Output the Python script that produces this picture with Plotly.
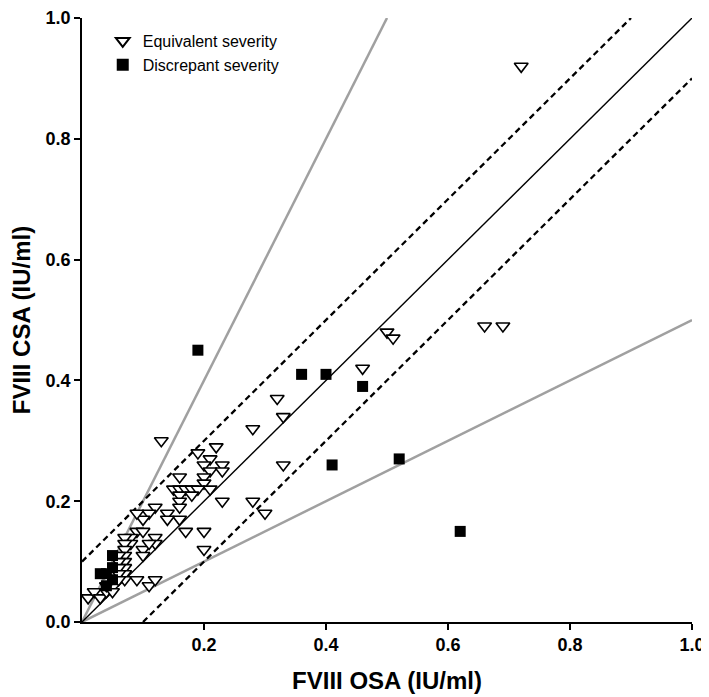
import plotly.graph_objects as go

# Equivalent severity (OSA, CSA)
eq_x = [0.72, 0.66, 0.69, 0.50, 0.51, 0.46, 0.32, 0.33, 0.28, 0.33, 0.28, 0.30, 0.23,
        0.13, 0.22, 0.19, 0.21, 0.23, 0.20, 0.21, 0.23, 0.16, 0.20, 0.20, 0.21,
        0.15, 0.16, 0.17, 0.18, 0.19, 0.16, 0.16, 0.16, 0.18, 0.16, 0.17, 0.20, 0.20,
        0.14, 0.14, 0.12, 0.11, 0.10, 0.09, 0.09, 0.10, 0.10, 0.10, 0.12, 0.12, 0.11,
        0.08, 0.07, 0.08, 0.07, 0.07, 0.07, 0.07, 0.07, 0.07, 0.07,
        0.06, 0.06, 0.06, 0.06, 0.06,
        0.09, 0.11, 0.12, 0.01, 0.02, 0.03, 0.04, 0.05, 0.04]
eq_y = [0.92, 0.49, 0.49, 0.48, 0.47, 0.42, 0.37, 0.34, 0.32, 0.26, 0.20, 0.18, 0.20,
        0.30, 0.29, 0.28, 0.27, 0.26, 0.26, 0.25, 0.25, 0.24, 0.24, 0.23, 0.22,
        0.22, 0.22, 0.22, 0.22, 0.22, 0.21, 0.20, 0.19, 0.21, 0.17, 0.15, 0.15, 0.12,
        0.18, 0.17, 0.19, 0.18, 0.17, 0.18, 0.15, 0.15, 0.12, 0.11, 0.14, 0.13, 0.13,
        0.14, 0.14, 0.13, 0.13, 0.12, 0.11, 0.10, 0.09, 0.08, 0.07,
        0.11, 0.10, 0.09, 0.08, 0.07,
        0.07, 0.06, 0.07, 0.04, 0.05, 0.04, 0.05, 0.05, 0.06]

# Discrepant severity (OSA, CSA)
dis_x = [0.19, 0.36, 0.40, 0.46, 0.41, 0.52, 0.62, 0.03, 0.04, 0.05, 0.05, 0.05, 0.04]
dis_y = [0.45, 0.41, 0.41, 0.39, 0.26, 0.27, 0.15, 0.08, 0.06, 0.07, 0.09, 0.11, 0.08]

# Reference lines
identity = ([0, 1], [0, 1])
upper_dash = ([0, 0.9], [0.1, 1.0])
lower_dash = ([0.1, 1.0], [0, 0.9])
double_line = ([0, 0.5], [0, 1.0])
half_line = ([0, 1.0], [0, 0.5])

x_ticks = [0.2, 0.4, 0.6, 0.8, 1.0]
y_ticks = [0.0, 0.2, 0.4, 0.6, 0.8, 1.0]

fig = go.Figure()
grey = "#a0a0a0"
for xs, ys in [double_line, half_line]:
    fig.add_trace(go.Scatter(x=xs, y=ys, mode="lines", line=dict(color=grey, width=2.5),
                             showlegend=False, hoverinfo="skip"))
for xs, ys in [upper_dash, lower_dash]:
    fig.add_trace(go.Scatter(x=xs, y=ys, mode="lines",
                             line=dict(color="black", width=2.3, dash="6px,4px"),
                             showlegend=False, hoverinfo="skip"))
fig.add_trace(go.Scatter(x=identity[0], y=identity[1], mode="lines",
                         line=dict(color="black", width=1.4), showlegend=False, hoverinfo="skip"))

fig.add_trace(go.Scatter(x=eq_x, y=eq_y, mode="markers", name="Equivalent severity",
                         marker=dict(symbol="triangle-down", size=12, color="white",
                                     line=dict(color="black", width=1.6)),
                         cliponaxis=False))
fig.add_trace(go.Scatter(x=dis_x, y=dis_y, mode="markers", name="Discrepant severity",
                         marker=dict(symbol="square", size=11, color="black",
                                     line=dict(color="black", width=0)),
                         cliponaxis=False))

fam = "Liberation Sans Narrow, Arial Narrow, Liberation Sans, Arial"
tickfont = dict(family=fam, size=18, color="black")
titlefont = dict(family=fam, size=24, color="black")

# page has an 8px default body margin, so the figure is sized to fit inside the window
fig.update_layout(
    width=701, height=689,
    margin=dict(l=74, r=17, t=10, b=75, autoexpand=False),
    plot_bgcolor="white", paper_bgcolor="white",
    legend=dict(x=0.034, y=0.99, xanchor="left", yanchor="top",
                font=dict(family="Liberation Sans, Arial", size=16, color="black"),
                bgcolor="rgba(0,0,0,0)", tracegroupgap=0, itemsizing="constant"),
    xaxis=dict(range=[0, 1], tickvals=x_ticks, ticktext=[f"<b>{v:.1f}</b>" for v in x_ticks],
               showgrid=False, zeroline=False, showline=True, linecolor="black", linewidth=1.5,
               ticks="outside", ticklen=6, tickwidth=1.5, tickcolor="black",
               tickfont=tickfont, automargin=False, ticklabeloverflow="allow",
               title=dict(text="<b>FVIII OSA (IU/ml)</b>", font=titlefont, standoff=18)),
    yaxis=dict(range=[0, 1], tickvals=y_ticks, ticktext=[f"<b>{v:.1f}</b>" for v in y_ticks],
               showgrid=False, zeroline=False, showline=True, linecolor="black", linewidth=1.5,
               ticks="outside", ticklen=6, tickwidth=1.5, tickcolor="black",
               tickfont=tickfont, automargin=False, ticklabeloverflow="allow",
               title=dict(text="<b>FVIII CSA (IU/ml)</b>", font=titlefont, standoff=8)),
)

fig.write_html("out.html")
